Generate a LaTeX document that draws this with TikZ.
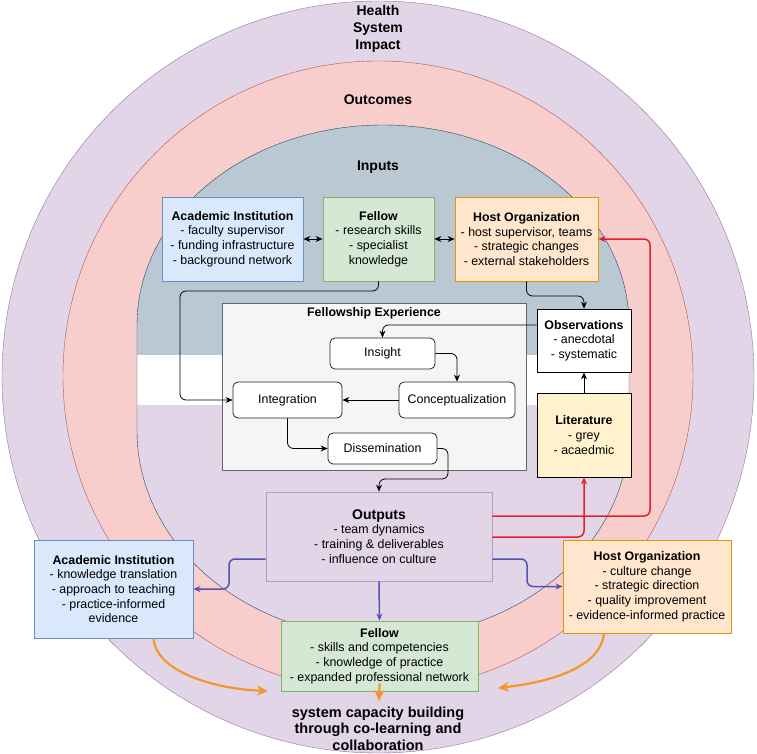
\documentclass[tikz,border=0pt]{standalone}
\usepackage{fontspec}
\setmainfont{Liberation Sans}
\usepackage{tikz}
\usetikzlibrary{arrows.meta,calc}
\definecolor{cimpact}{HTML}{E1D5E7}
\definecolor{dimpact}{HTML}{9673A6}
\definecolor{coutc}{HTML}{F8CECC}
\definecolor{doutc}{HTML}{B85450}
\definecolor{cinput}{HTML}{BAC8D3}
\definecolor{dinput}{HTML}{23445D}
\definecolor{cacad}{HTML}{DAE8FC}
\definecolor{dacad}{HTML}{6C8EBF}
\definecolor{cfell}{HTML}{D5E8D4}
\definecolor{dfell}{HTML}{82B366}
\definecolor{chost}{HTML}{FFE6CC}
\definecolor{dhost}{HTML}{D79B00}
\definecolor{cexp}{HTML}{F5F5F5}
\definecolor{dexp}{HTML}{666666}
\definecolor{clit}{HTML}{FFF2CC}
\definecolor{cred}{HTML}{E3202B}
\definecolor{cblue}{HTML}{5252B0}
\definecolor{corange}{HTML}{F5962C}

\begin{document}
\begin{tikzpicture}[x=1pt, y=-1pt, font=\fontsize{12.4}{14.7}\selectfont,
    >={Stealth[length=7pt,width=6pt]},
    box/.style={draw, align=center, inner sep=0pt, line width=0.8pt},
    stage/.style={box, fill=white, draw=black!85, rounded corners=5pt,
      minimum width=105pt, minimum height=31pt},
    ring/.style={font=\fontsize{14}{16.8}\selectfont\bfseries, align=center},
    flow/.style={->, line width=0.8pt, rounded corners=6pt},
    redflow/.style={flow, cred, line width=1.5pt},
    blueflow/.style={flow, cblue, line width=1.5pt},
    orangeflow/.style={->, corange, line width=2.2pt, >={Stealth[length=11pt,width=10pt]}}]
  \useasboundingbox (0,0) rectangle (757,754);
  % inner field: inputs above, outputs below
  \def\inshape{(137,325) arc[start angle=180, end angle=360, x radius=246, y radius=200]
    -- (629,431) arc[start angle=0, end angle=180, x radius=246, y radius=207] -- cycle}
  % nested rings
  \draw[fill=cimpact, draw=dimpact] (378,377) circle [radius=376];
  \draw[fill=coutc, draw=doutc] (378,376) circle [radius=315];
  \fill[white] \inshape;
  \begin{scope}
    \clip (0,0) rectangle (757,354);
    \fill[cinput] \inshape;
  \end{scope}
  \begin{scope}
    \clip (0,405) rectangle (757,754);
    \fill[cimpact] \inshape;
  \end{scope}
  \draw[dinput] \inshape;
  \node[ring] (impact) at (378,29) {Health\\System\\Impact};
  \node[ring] (outc) at (378,100) {Outcomes};
  \node[ring] (inp) at (378,167) {Inputs};
  % inputs
  \node[box, fill=cacad, draw=dacad, minimum width=141pt, minimum height=84pt] (acadin) at (232.5,239)
    {\textbf{Academic Institution}\\- faculty supervisor\\- funding infrastructure\\- background network};
  \node[box, fill=cfell, draw=dfell, minimum width=111pt, minimum height=84pt] (fellin) at (378.5,239)
    {\textbf{Fellow}\\- research skills\\- specialist\\knowledge};
  \node[box, fill=chost, draw=dhost, minimum width=143pt, minimum height=84pt] (hostin) at (526.5,239)
    {\textbf{Host Organization}\\- host supervisor, teams\\- strategic changes\\- external stakeholders};
  % fellowship experience
  \node[box, fill=cexp, draw=dexp, minimum width=304pt, minimum height=167pt] (exp) at (374,386.5) {};
  \node[font=\fontsize{12.4}{14.7}\selectfont\bfseries] (exptitle) at (374,313) {Fellowship Experience};
  \node[stage] (insight) at (382.5,353.5) {Insight};
  \node[stage, minimum width=116pt, minimum height=36pt] (concept) at (457,400) {Conceptualization};
  \node[stage, minimum width=109pt, minimum height=36pt] (integ) at (287.5,400) {Integration};
  \node[stage, minimum width=109pt] (dissem) at (382.5,448.5) {Dissemination};
  \node[box, fill=white, draw=black, minimum width=94pt, minimum height=63pt] (obs) at (584,340.5)
    {\textbf{Observations}\\- anecdotal\\- systematic};
  \node[box, fill=clit, draw=black, minimum width=94pt, minimum height=84pt] (lit) at (584,435)
    {\textbf{Literature}\\- grey\\- acaedmic};
  % outputs and outcomes
  \node[box, fill=cimpact, draw=dimpact!70, minimum width=226pt, minimum height=89pt] (outp) at (379,536.5)
    {{\fontsize{14}{16}\selectfont\textbf{Outputs}}\\- team dynamics\\- training \& deliverables\\- influence on culture};
  \node[box, fill=cacad, draw=dacad, minimum width=159pt, minimum height=98pt] (acadout) at (113.5,589)
    {\textbf{Academic Institution}\\- knowledge translation\\- approach to teaching\\- practice-informed\\evidence};
  \node[box, fill=chost, draw=dhost, minimum width=168pt, minimum height=93pt] (hostout) at (647,586.5)
    {\textbf{Host Organization}\\- culture change\\- strategic direction\\- quality improvement\\- evidence-informed practice};
  \node[box, fill=cfell, draw=dfell, minimum width=197pt, minimum height=70pt] (fellout) at (379.5,656)
    {\textbf{Fellow}\\- skills and competencies\\- knowledge of practice\\- expanded professional network};
  \node[ring, font=\fontsize{14.5}{16.5}\selectfont\bfseries] (capacity) at (378,728.5)
    {system capacity building\\through co-learning and\\collaboration};
  % connectors inside
  \draw[<->, line width=0.8pt] (acadin) -- (fellin);
  \draw[<->, line width=0.8pt] (fellin) -- (hostin);
  \coordinate (fellbend) at (180,291);
  \coordinate (hostbend) at (584,296);
  \coordinate (dissbend) at (448,479);
  \draw[flow] (fellin.south) |- (fellbend) |- (integ.west);
  \draw[flow] (hostin.south) |- (hostbend) -- (obs.north);
  \draw[flow] (obs.west|-0,325) -| (insight.north);
  \draw[flow] (insight.east) -| (concept.north);
  \draw[flow] (concept.west) -- (integ.east);
  \draw[flow] (integ.south) |- (dissem.west);
  \draw[flow] (dissem.east) -| (dissbend) -| (outp.north);
  \draw[flow] (lit.north) -- (obs.south);
  % feedback to inputs
  \coordinate (redtop) at (650,239);
  \draw[redflow] (outp.east|-0,516) -| (redtop) -- (hostin.east);
  \draw[redflow] (outp.east|-0,537) -| (lit.south);
  % outputs to outcomes
  \coordinate (blueleft) at (229,589);
  \coordinate (blueright) at (527,586.5);
  \draw[blueflow] (outp.west|-0,559) -| (blueleft) -- (acadout.east);
  \draw[blueflow] (outp.east|-0,559) -| (blueright) -- (hostout.west);
  \draw[blueflow] (outp.south) -- (fellout.north);
  % outcomes to impact
  \coordinate (orangeL) at (268,691);
  \coordinate (orangeR) at (498,688);
  \coordinate (orangeM) at (379,701);
  \draw[orangeflow] ([xshift=40pt]acadout.south) .. controls (156,672) and (215,689) .. (orangeL);
  \draw[orangeflow] ([xshift=-43pt]hostout.south) .. controls (600,668) and (550,682) .. (orangeR);
  \draw[orangeflow] ([yshift=8pt]fellout.south) -- (orangeM);
\end{tikzpicture}
\end{document}
